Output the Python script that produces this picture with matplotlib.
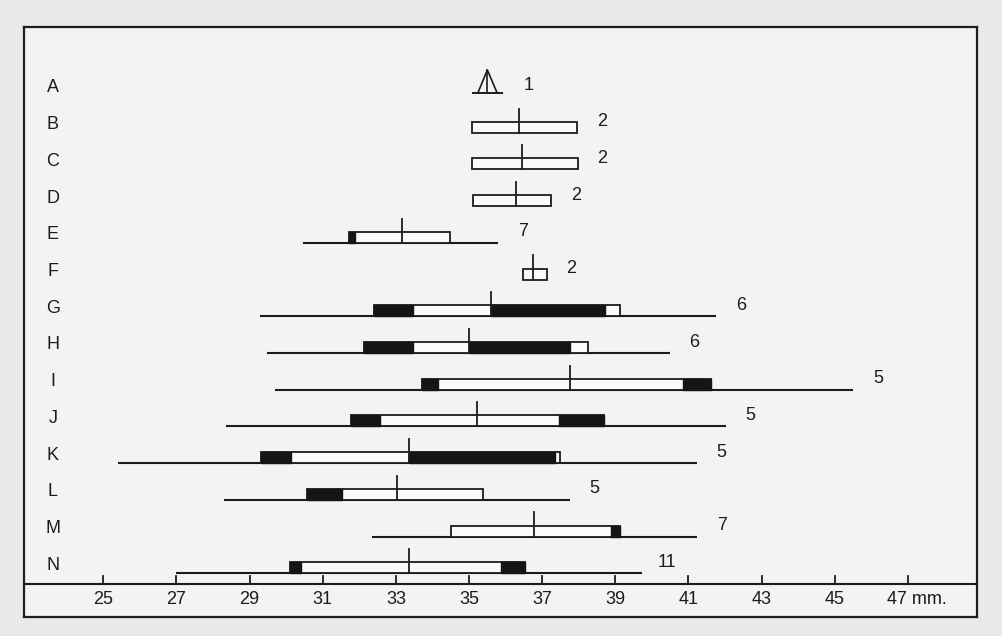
import matplotlib
matplotlib.use("Agg")
import matplotlib.pyplot as plt
from matplotlib.patches import Rectangle, Polygon

# ---------------- data (mm) ----------------
rows = list("ABCDEFGHIJKLMN")
counts = [1, 2, 2, 2, 7, 2, 6, 6, 5, 5, 5, 5, 7, 11]
means = [35.50, 36.36, 36.44, 36.29, 33.16, 36.76, 35.60, 34.99, 37.76,
         35.21, 33.35, 33.02, 36.77, 33.35]
range_lo = [None, None, None, None, 30.46, None, 29.28, 29.47, 29.69,
            28.35, 25.40, 28.29, 32.34, 26.98]
range_hi = [None, None, None, None, 35.79, None, 41.75, 40.49, 45.50,
            42.02, 41.23, 37.75, 41.23, 39.73]
box_lo = [None, 35.08, 35.08, 35.10, 31.71, 36.47, 32.40, 32.12, 33.71,
          31.77, 29.31, 30.56, 34.50, 30.10]
box_hi = [None, 37.95, 37.97, 37.24, 34.48, 37.12, 39.12, 38.25, 41.61,
          38.69, 37.48, 35.37, 39.12, 36.52]
black_segments = {
    "E": [(31.71, 31.88)],
    "G": [(32.40, 33.46), (35.60, 38.71)],
    "H": [(32.12, 33.46), (34.99, 37.75)],
    "I": [(33.71, 34.15), (40.85, 41.61)],
    "J": [(31.77, 32.56), (37.45, 38.69)],
    "K": [(29.31, 30.13), (33.35, 37.34)],
    "L": [(30.56, 31.52)],
    "M": [(38.88, 39.12)],
    "N": [(30.10, 30.40), (35.87, 36.52)],
}
tick_values = [25, 27, 29, 31, 33, 35, 37, 39, 41, 43, 45]
last_tick = 47
unit_label = "mm."

# ---------------- figure ----------------
W, H = 1002, 636
fig = plt.figure(figsize=(W / 100, H / 100), dpi=100, facecolor="#e9e9e9")
ax = fig.add_axes([24 / W, 1 - 617 / H, (977 - 24) / W, (617 - 27) / H])
ax.set_facecolor("#f3f3f3")
ax.set_xlim(22.83, 48.89)
ax.set_ylim(14.41, -1.66)
ax.set_xticks([])
ax.set_yticks([])
for s in ax.spines.values():
    s.set_linewidth(1.6)
    s.set_color("#1e1e1e")

ink = "#1c1c1c"
FONT = ["Liberation Sans", "DejaVu Sans"]
fs = 13

base_off = 0.22      # range line below row centre
box_h = 0.30         # box height
mean_h = 0.66        # mean tick height

for i, name in enumerate(rows):
    ax.text(23.62, i, name, ha="center", va="center", fontsize=fs,
            family=FONT, color=ink)
    yb = i + base_off
    if name == "A":
        m = means[i]
        yb = i + 0.14
        ax.plot([m - 0.42, m + 0.44], [yb, yb], color=ink, lw=1.4,
                solid_capstyle="butt")
        tri = Polygon([[m - 0.26, yb], [m, yb - 0.63], [m + 0.27, yb]],
                      closed=False, fill=False, edgecolor=ink, lw=1.2)
        ax.add_patch(tri)
        ax.plot([m, m], [yb, yb - 0.63], color=ink, lw=1.2)
        right = m + 0.44
    else:
        if range_lo[i] is not None:
            ax.plot([range_lo[i], range_hi[i]], [yb, yb], color=ink, lw=1.5,
                    solid_capstyle="butt")
        ax.add_patch(Rectangle((box_lo[i], yb - box_h), box_hi[i] - box_lo[i],
                               box_h, facecolor="#fafafa", edgecolor=ink,
                               lw=1.3, zorder=3))
        for (a, b) in black_segments.get(name, []):
            ax.add_patch(Rectangle((a, yb - box_h), b - a, box_h,
                                   facecolor="#151515", edgecolor="#151515",
                                   lw=1.0, zorder=4))
        ax.plot([means[i], means[i]], [yb, yb - mean_h], color=ink, lw=1.3,
                zorder=5)
        right = max(v for v in [range_hi[i], box_hi[i], means[i]] if v is not None)
    ax.text(right + 0.68, i - 0.08, str(counts[i]), ha="center", va="center",
            fontsize=fs, family=FONT, color=ink)

# ---------------- scale axis ----------------
y_axis = 13.52
ax.axhline(y_axis, xmin=0.0, xmax=1.0, color=ink, lw=1.5)
for t in tick_values + [last_tick]:
    ax.plot([t, t], [y_axis, y_axis - 0.24], color=ink, lw=1.3)
for t in tick_values:
    ax.text(t, y_axis + 0.42, str(t), ha="center", va="center", fontsize=fs,
            family=FONT, color=ink)
ax.text(46.42, y_axis + 0.42, f"{last_tick} {unit_label}", ha="left",
        va="center", fontsize=fs, family=FONT, color=ink)

fig.savefig("out.png", dpi=100, facecolor=fig.get_facecolor())
